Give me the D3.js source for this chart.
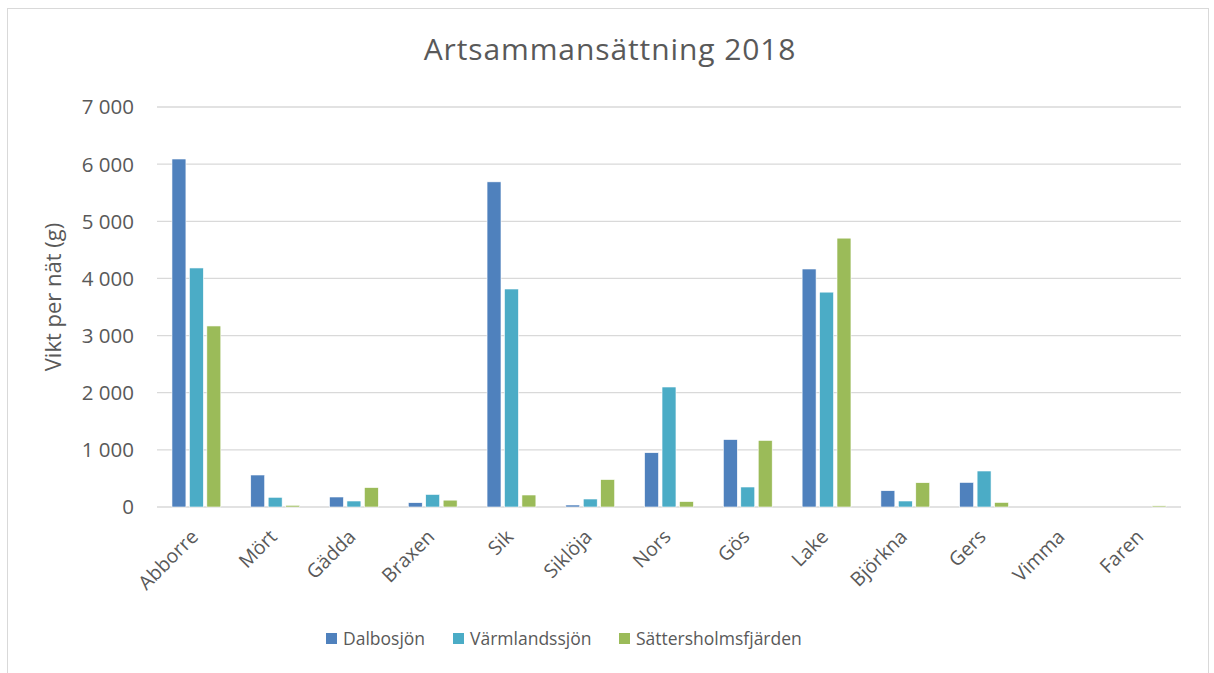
<!DOCTYPE html>
<html><head><meta charset="utf-8">
<script src="https://cdn.jsdelivr.net/npm/d3@7"></script>
<style>body{margin:0;background:#fff}svg{display:block}text{font-family:"Open Sans",sans-serif}</style>
</head><body>
<script>
const categories = ["Abborre","Mört","Gädda","Braxen","Sik","Siklöja","Nors","Gös","Lake","Björkna","Gers","Vimma","Faren"];
const seriesNames = ["Dalbosjön","Värmlandssjön","Sättersholmsfjärden"];
const dalbosjon = [6090,560,175,75,5690,35,950,1180,4165,285,430,0,0];
const varmlandssjon = [4183,170,105,220,3815,140,2100,350,3760,105,630,0,0];
const sattersholmsfjarden = [3168,30,340,120,210,480,95,1165,4705,425,80,0,20];
const yTicks = [0,1000,2000,3000,4000,5000,6000,7000];
const colors = ["#4f81bd","#4bacc6","#9bbb59"];

const series = [dalbosjon, varmlandssjon, sattersholmsfjarden];
const W = 1214, H = 673;
const svg = d3.select("body").append("svg").attr("width", W).attr("height", H);
svg.append("rect").attr("x",7.5).attr("y",8.5).attr("width",1201).attr("height",680).attr("fill","#fff").attr("stroke","#d9d9d9");

const m = {l:157, r:1181, t:107, b:507};
const x = d3.scaleBand().domain(categories).range([m.l, m.r]).paddingInner(0.38).paddingOuter(0.19);
const xs = d3.scaleBand().domain(d3.range(3)).range([0, x.bandwidth()]).paddingInner(0.2);
const y = d3.scaleLinear().domain([0,7000]).range([m.b, m.t]);
const fmt = v => d3.format(",")(v).replace(/,/g, " ");

svg.append("g").selectAll("line").data(yTicks).join("line")
  .attr("x1", m.l).attr("x2", m.r).attr("y1", d=>y(d)).attr("y2", d=>y(d))
  .attr("stroke","#d9d9d9").attr("stroke-width",1.3);

svg.append("g").selectAll("text").data(yTicks).join("text")
  .attr("x",134).attr("y",d=>y(d)).attr("dy","0.36em").attr("text-anchor","end")
  .attr("font-size",20.5).attr("fill","#595959").text(fmt);

const g = svg.append("g");
series.forEach((s, i) => {
  g.selectAll(null).data(s).join("rect")
    .attr("x", (d,j) => x(categories[j]) + xs(i))
    .attr("y", d => y(d))
    .attr("width", xs.bandwidth())
    .attr("height", d => y(0) - y(d))
    .attr("fill", colors[i])
    .attr("stroke","#fff").attr("stroke-width",0.6);
});

svg.append("g").selectAll("text").data(categories).join("text")
  .attr("transform", d => `translate(${x(d)+x.bandwidth()/2+3},${538}) rotate(-45)`)
  .attr("text-anchor","end").attr("font-size",19.5).attr("fill","#595959").text(d=>d);

svg.append("text").attr("transform","translate(53,297) rotate(-90)").attr("text-anchor","middle")
  .attr("dy","0.35em").attr("font-size",22).attr("fill","#595959").text("Vikt per nät (g)");

svg.append("text").attr("x",610).attr("y",60).attr("text-anchor","middle")
  .attr("font-size",30).attr("letter-spacing",0.9).attr("fill","#595959").text("Artsammansättning 2018");

const legX = [326, 453, 619];
const lg = svg.append("g");
seriesNames.forEach((n,i)=>{
  lg.append("rect").attr("x",legX[i]).attr("y",633).attr("width",11).attr("height",11).attr("fill",colors[i]);
  lg.append("text").attr("x",legX[i]+17).attr("y",639).attr("dy","0.36em").attr("font-size",17.5).attr("fill","#595959").text(n);
});
</script>
</body></html>
